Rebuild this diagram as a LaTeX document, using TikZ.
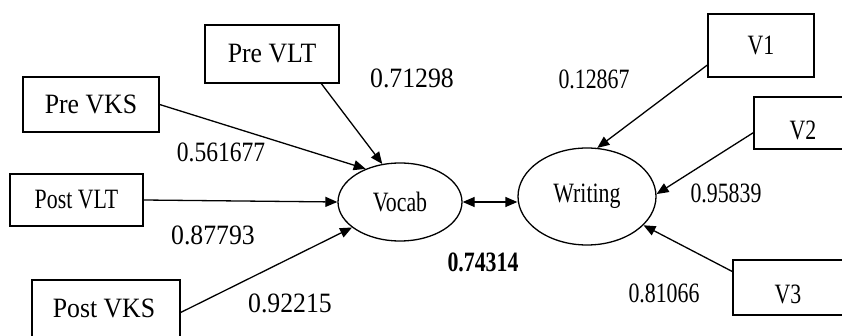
\documentclass[tikz,border=0pt]{standalone}
\usepackage{fontspec}
\setmainfont[FakeStretch=0.92]{Liberation Serif}
\newfontfamily\cond[FakeStretch=0.78]{Liberation Serif}
\newfontfamily\semicond[FakeStretch=0.84]{Liberation Serif}
\usetikzlibrary{shapes.geometric,arrows.meta}
\tikzset{
  obs/.style={draw, line width=1.3pt, inner sep=0pt, font=\fontsize{28}{32}\selectfont},
  latent/.style={draw, ellipse, line width=1.3pt, inner sep=0pt, font=\cond\fontsize{28}{32}\selectfont},
  val/.style={inner sep=0pt, font=\fontsize{28}{32}\selectfont},
  cval/.style={inner sep=0pt, font=\cond\fontsize{28}{32}\selectfont},
  path/.style={line width=1.3pt, -{Triangle[length=12pt,width=10pt]}},
  both/.style={line width=1.3pt, {Triangle[length=12pt,width=10pt]}-{Triangle[length=12pt,width=10pt]}}
}
\begin{document}
\begin{tikzpicture}[x=1pt,y=-1pt]
\useasboundingbox (0,0) rectangle (842,336);
\clip (0,0) rectangle (842,336);
% indicator boxes
\node[obs, minimum width=134pt, minimum height=58pt] (prevlt) at (272,54) {Pre VLT};
\node[obs, minimum width=136pt, minimum height=55pt] (prevks) at (91,104.5) {Pre VKS};
\node[obs, minimum width=133pt, minimum height=52pt] (postvlt) at (76.5,200) {\cond Post VLT};
\node[obs, minimum width=148pt, minimum height=65pt] (postvks) at (106,312.5) {};
\node[val] at (104,308) {Post VKS};
\node[obs, minimum width=106pt, minimum height=63pt] (v1) at (761,45.5) {\cond V1};
\node[obs, minimum width=98pt, minimum height=52pt] (v2) at (803,123) {};
\node[val] at (803,130) {\cond V2};
\node[obs, minimum width=110pt, minimum height=55pt] (v3) at (788,287.5) {};
\node[val] at (788,294) {\cond V3};
% latent variables
\node[latent, minimum width=124pt, minimum height=78pt] (vocab) at (400,202) {Vocab};
\node[latent, minimum width=138pt, minimum height=97pt] (writing) at (587,196.5) {Writing};
% paths
\draw[path] (prevlt.-31) -- (vocab.115);
\draw[path] (prevks.east) -- (vocab.136);
\draw[path] (postvlt.east) -- (vocab.west);
\draw[path] (postvks.east) -- (vocab.208);
\draw[path] (v1.200) -- (writing.78);
\draw[path] (v2.191) -- (writing.2);
\draw[path] (v3.164) -- (writing.333);
\draw[both] (vocab.east) -- (writing.west |- vocab.east);
% coefficients
\node[val] at (412,78) {0.71298};
\node[val, font=\semicond\fontsize{28}{32}\selectfont] at (221,152) {0.561677};
\node[val] at (213,235) {0.87793};
\node[val] at (290,303) {0.92215};
\node[cval] at (594,79) {0.12867};
\node[cval] at (726,193) {0.95839};
\node[cval, font=\cond\bfseries\fontsize{28}{32}\selectfont] at (483,262) {0.74314};
\node[cval] at (664,293) {0.81066};
\end{tikzpicture}
\end{document}
